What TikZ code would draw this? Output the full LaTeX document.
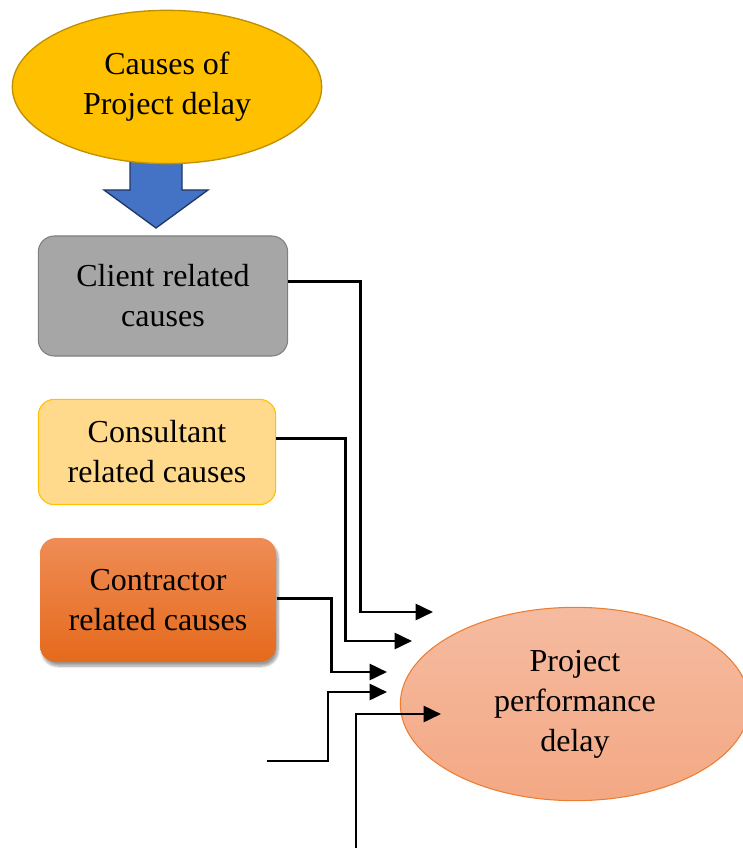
\documentclass[tikz,border=0pt]{standalone}
\usepackage{fontspec}
\setmainfont{Liberation Serif}
\usetikzlibrary{shapes.geometric}
\usetikzlibrary{arrows.meta}
\usetikzlibrary{shadows.blur}
\definecolor{causegold}{RGB}{255,192,0}
\definecolor{causeedge}{RGB}{191,144,0}
\definecolor{arrowblue}{RGB}{68,114,196}
\definecolor{arrowedge}{RGB}{31,56,100}
\definecolor{clientgray}{RGB}{166,166,166}
\definecolor{clientedge}{RGB}{127,127,127}
\definecolor{consultfill}{RGB}{255,217,140}
\definecolor{contracttop}{RGB}{239,140,85}
\definecolor{contractbot}{RGB}{229,106,28}
\definecolor{perftop}{RGB}{245,187,160}
\definecolor{perfbot}{RGB}{244,168,132}
\definecolor{perfedge}{RGB}{237,125,49}
\tikzset{
  every node/.style={align=center, font=\fontsize{24}{30}\selectfont},
  causebox/.style={ % rounded boxes on the left
    rectangle, rounded corners=12pt, line width=0.8pt, inner sep=0pt},
  flow/.style={ % black elbow connectors
    draw, line width=2pt, -{Triangle[length=13pt, width=12pt]}}
}
\begin{document}
\begin{tikzpicture}[x=0.75pt, y=-0.75pt]
  \useasboundingbox (0,0) rectangle (742,848);

  % big arrow from the top ellipse
  \draw [fill=arrowblue, draw=arrowedge, line width=1pt, line join=miter]
    (130,150) -- (182,150) -- (182,190) -- (208,190) -- (156,228)
    -- (104,190) -- (130,190) -- cycle;

  \node [ellipse, fill=causegold, draw=causeedge, line width=1pt,
         minimum width=232pt, minimum height=115pt, inner sep=0pt]
    (causes) at (167,87) {Causes of\\ Project delay};

  \node [causebox, fill=clientgray, draw=clientedge,
         minimum width=187pt, minimum height=90pt]
    (client) at (163,296) {Client related\\ causes};

  \node [causebox, fill=consultfill, draw=causegold,
         minimum width=178pt, minimum height=79pt]
    (consult) at (157,452) {Consultant\\ related causes};

  \node [causebox, top color=contracttop, bottom color=contractbot, draw=none,
         minimum width=177pt, minimum height=93pt,
         blur shadow={shadow xshift=1.5pt, shadow yshift=-3pt, shadow blur steps=8}]
    (contract) at (158,600) {Contractor\\ related causes};

  \node [ellipse, top color=perftop, bottom color=perfbot, draw=perfedge,
         line width=0.8pt, minimum width=262pt, minimum height=145pt, inner sep=0pt]
    (perf) at (575,704) {Project\\ performance\\ delay};

  % arrow tips and loose ends
  \coordinate (t1) at (433,612);
  \coordinate (t2) at (412,641);
  \coordinate (t3) at (387,672);
  \coordinate (t4) at (387,692);
  \coordinate (t5) at (441,714);
  \coordinate (f4) at (267,761);
  \coordinate (f5) at (356,848);

  \draw [flow] ([yshift=11pt]client.east) -- ++(72,0) |- (t1);
  \draw [flow] ([yshift=10pt]consult.east) -- ++(69,0) |- (t2);
  \draw [flow] ([yshift=1pt]contract.east) -- ++(55,0) |- (t3);
  \draw [flow] (f4) -- ++(61,0) |- (t4);
  \draw [flow] (f5) |- (t5);

\end{tikzpicture}
\end{document}
